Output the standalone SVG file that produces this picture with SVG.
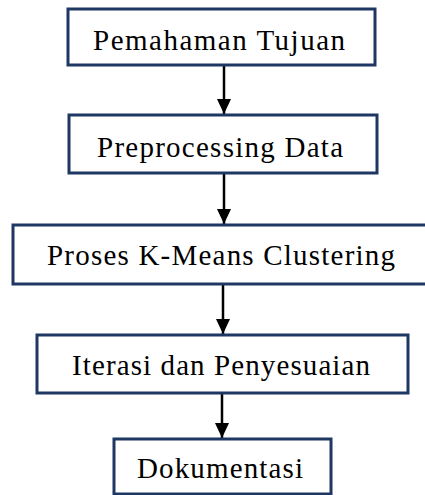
<svg xmlns="http://www.w3.org/2000/svg" width="425" height="495" viewBox="0 0 425 495">
<defs>
<style>
.box{fill:#fff;stroke:#1f3763;stroke-width:3}
.lbl{font-family:"Liberation Serif","Times New Roman",serif;font-size:29px;fill:#000}
.edge{stroke:#000;stroke-width:2.5;fill:none}
</style>
<marker id="ah" markerUnits="userSpaceOnUse" markerWidth="15" markerHeight="14" viewBox="0 0 15 14" refX="15" refY="7" orient="auto">
<path d="M0,0 L15,7 L0,14 Z" fill="#000"/>
</marker>
</defs>
<rect width="425" height="495" fill="#fff"/>
<g id="connectors">
<line class="edge" x1="224" y1="66" x2="224" y2="114" marker-end="url(#ah)"/>
<line class="edge" x1="224" y1="174" x2="224" y2="224" marker-end="url(#ah)"/>
<line class="edge" x1="223" y1="285" x2="223" y2="334" marker-end="url(#ah)"/>
<line class="edge" x1="222" y1="394" x2="222" y2="438" marker-end="url(#ah)"/>
</g>
<g id="n1">
<rect class="box" x="68" y="9" width="307" height="56"/>
<text class="lbl" x="93" y="50" textLength="252" lengthAdjust="spacing">Pemahaman Tujuan</text>
</g>
<g id="n2">
<rect class="box" x="69" y="115" width="308" height="58"/>
<text class="lbl" x="97" y="157" textLength="246" lengthAdjust="spacing">Preprocessing Data</text>
</g>
<g id="n3">
<rect class="box" x="13" y="225" width="420" height="59"/>
<text class="lbl" x="47" y="265" textLength="348" lengthAdjust="spacing">Proses K-Means Clustering</text>
</g>
<g id="n4">
<rect class="box" x="37" y="335" width="371" height="58"/>
<text class="lbl" x="72" y="375" textLength="298" lengthAdjust="spacing">Iterasi dan Penyesuaian</text>
</g>
<g id="n5">
<rect class="box" x="114" y="439" width="217" height="55"/>
<text class="lbl" x="137" y="478" textLength="166" lengthAdjust="spacing">Dokumentasi</text>
</g>
</svg>
